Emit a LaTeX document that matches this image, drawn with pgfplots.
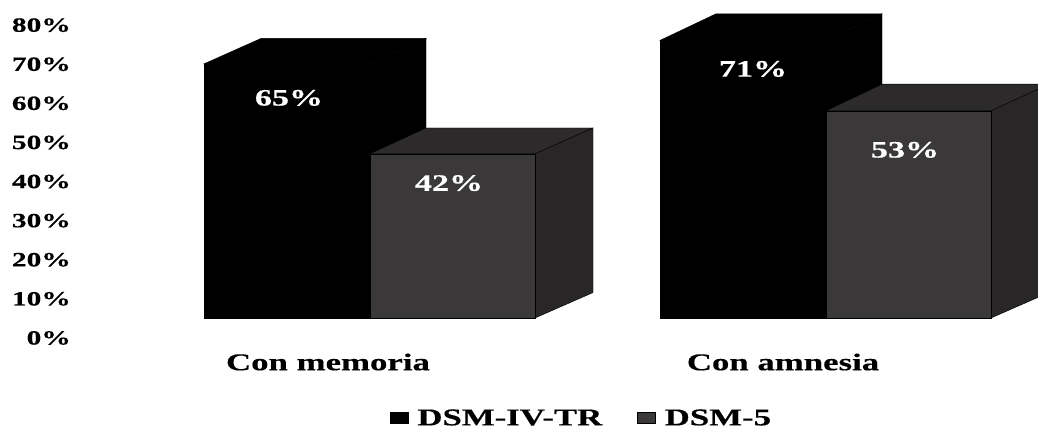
\documentclass[border=0pt]{standalone}
\usepackage{fontspec}
\setmainfont{Liberation Serif}[FakeStretch=1.45, BoldFeatures={FakeBold=0.4}]
\usepackage{pgfplots}
\pgfplotsset{compat=1.18}
\definecolor{frontdark}{HTML}{3A3839}
\definecolor{sidedark}{HTML}{282627}
\definecolor{topdark}{HTML}{2C2A2B}
\begin{document}
\begin{tikzpicture}
\begin{axis}[
  scale only axis,
  width=1038pt, height=426pt,
  xmin=0, xmax=1038,
  ymin=-27.62, ymax=81.33,
  axis line style={draw=none},
  tick style={draw=none},
  clip=true,
  ytick={-5.1,4.9,14.9,24.9,34.9,44.9,54.9,64.9,74.9},
  yticklabels={0\%,10\%,20\%,30\%,40\%,50\%,60\%,70\%,80\%},
  yticklabel style={anchor=east, xshift=71pt, font=\bfseries\fontsize{20.3}{20.3}\selectfont, inner sep=0pt},
  ytick pos=left,
  xtick={328,783},
  xticklabels={Con memoria,Con amnesia},
  xticklabel style={anchor=center, yshift=64pt, font=\bfseries\fontsize{24}{24}\selectfont, inner sep=0pt},
  legend columns=2,
  legend cell align=left,
  legend style={
    at={(axis cs:390,-25.6)}, anchor=west,
    draw=none, fill=none, inner sep=0pt, outer sep=0pt,
    font=\bfseries\fontsize{24}{24}\selectfont,
    /tikz/every even column/.append style={column sep=33pt},
    /tikz/every odd column/.append style={column sep=7pt},
  },
]
% first group, DSM-IV-TR
\addplot[fill=black, draw=black, forget plot] coordinates {(204,0)(204,65)(369.5,65)(369.5,0)} -- cycle;
\addplot[fill=black, draw=black, forget plot] coordinates {(204,65)(261,71.5)(426,71.5)(369.5,65)} -- cycle;
\addplot[fill=black, draw=black, forget plot] coordinates {(369.5,0)(369.5,65)(426,71.5)(426,6.5)} -- cycle;
% first group, DSM-5
\addplot[fill=topdark, draw=black, thin, forget plot] coordinates {(370,42)(426,48.6)(593,48.6)(535,42)} -- cycle;
\addplot[fill=sidedark, draw=black, thin, forget plot] coordinates {(535,0)(535,42)(593,48.6)(593,6.5)} -- cycle;
\addplot[fill=frontdark, draw=black, thin, forget plot] coordinates {(370,0)(370,42)(535,42)(535,0)} -- cycle;
% second group, DSM-IV-TR
\addplot[fill=black, draw=black, forget plot] coordinates {(660,0)(660,71)(826,71)(826,0)} -- cycle;
\addplot[fill=black, draw=black, forget plot] coordinates {(660,71)(716,77.8)(882,77.8)(826,71)} -- cycle;
\addplot[fill=black, draw=black, forget plot] coordinates {(826,0)(826,71)(882,77.8)(882,6.5)} -- cycle;
% second group, DSM-5
\addplot[fill=topdark, draw=black, thin, forget plot] coordinates {(826,53)(882,59.8)(1049,59.8)(991,53)} -- cycle;
\addplot[fill=sidedark, draw=black, thin, forget plot] coordinates {(991,0)(991,53)(1049,59.8)(1049,6.5)} -- cycle;
\addplot[fill=frontdark, draw=black, thin, forget plot] coordinates {(826,0)(826,53)(991,53)(991,0)} -- cycle;
% legend entries
\addlegendimage{legend image code/.code={\fill[black] (0pt,-5.5pt) rectangle (18pt,5.5pt);}}
\addlegendentry{DSM-IV-TR}
\addlegendimage{legend image code/.code={\filldraw[fill=frontdark,draw=black,thin] (0pt,-5.5pt) rectangle (18pt,5.5pt);}}
\addlegendentry{DSM-5}
% value labels
\node[text=white, font=\bfseries\fontsize{23.5}{23.5}\selectfont] at (axis cs:289,56.3) {65\%};
\node[text=white, font=\bfseries\fontsize{23.5}{23.5}\selectfont] at (axis cs:449,34.5) {42\%};
\node[text=white, font=\bfseries\fontsize{23.5}{23.5}\selectfont] at (axis cs:753,63.7) {71\%};
\node[text=white, font=\bfseries\fontsize{23.5}{23.5}\selectfont] at (axis cs:905,43) {53\%};
\end{axis}
\end{tikzpicture}
\end{document}
